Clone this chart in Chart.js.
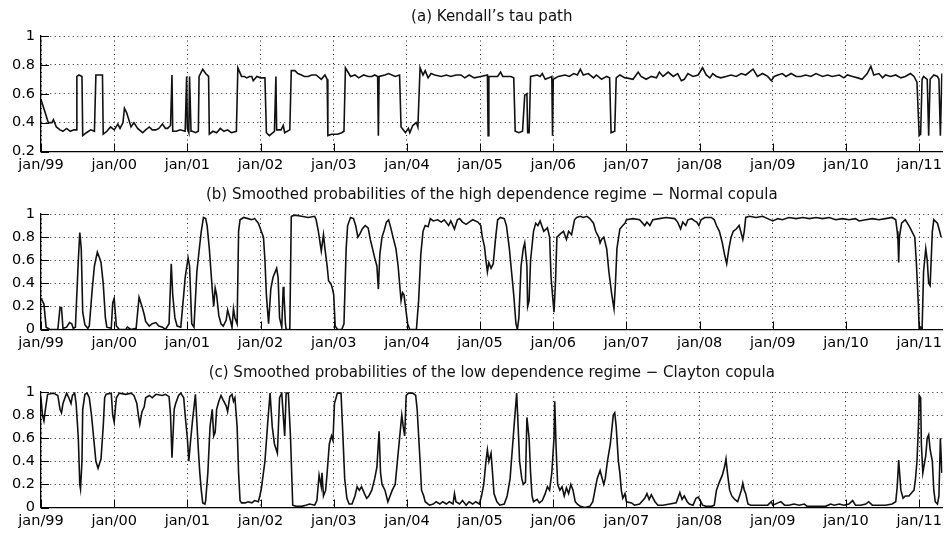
<!DOCTYPE html>
<html lang="en">
<head>
    <meta charset="UTF-8">
    <title>Kendall's tau path and smoothed regime probabilities</title>
    <script src="https://cdn.jsdelivr.net/npm/chart.js"></script>
    <style>
        body {
            margin: 0;
            background: #fff;
            width: 947px;
            height: 534px;
            overflow: hidden;
            position: relative;
        }
        canvas {
            position: absolute;
            left: 0;
        }
        #tauChart { top: 0; }
        #normalChart { top: 178px; }
        #claytonChart { top: 356px; }
    </style>
</head>
<body>

<canvas id="tauChart" width="947" height="178"></canvas>
<canvas id="normalChart" width="947" height="178"></canvas>
<canvas id="claytonChart" width="947" height="178"></canvas>

<script>
// x ticks: one per january, labelled jan/yy
const yearTicks = [1999, 2000, 2001, 2002, 2003, 2004, 2005, 2006, 2007, 2008, 2009, 2010, 2011];
const tauTicks = [0.2, 0.4, 0.6, 0.8, 1];
const probTicks = [0, 0.2, 0.4, 0.6, 0.8, 1];

// (a) Kendall's tau path
const tauYears = [
    1999.00,1999.05,1999.10,1999.15,1999.17,1999.21,1999.26,1999.30,1999.35,1999.40,1999.45,1999.48,1999.49,1999.52,1999.56,1999.57,1999.62,1999.68,1999.73,1999.75,1999.80,1999.84,1999.85,1999.90,1999.95,
    2000.00,2000.05,2000.08,2000.12,2000.14,2000.17,2000.23,2000.27,2000.32,2000.39,2000.43,2000.48,2000.52,2000.57,2000.61,2000.66,2000.70,2000.73,2000.77,2000.79,2000.80,2000.85,2000.90,2000.97,2000.99,
    2001.00,2001.02,2001.03,2001.05,2001.07,2001.11,2001.15,2001.16,2001.21,2001.25,2001.29,2001.30,2001.35,2001.40,2001.45,2001.50,2001.55,2001.60,2001.67,2001.69,2001.74,2001.78,2001.81,2001.85,2001.88,2001.90,2001.95,
    2002.00,2002.06,2002.08,2002.12,2002.19,2002.21,2002.22,2002.28,2002.31,2002.33,2002.40,2002.42,2002.47,2002.51,2002.56,2002.60,2002.65,2002.70,2002.76,2002.83,2002.88,2002.91,2002.92,2002.97,
    2003.05,2003.11,2003.14,2003.16,2003.23,2003.29,2003.34,2003.41,2003.47,2003.52,2003.56,2003.60,2003.61,2003.62,2003.70,2003.75,2003.84,2003.90,2003.92,2003.95,2003.98,
    2004.02,2004.04,2004.08,2004.13,2004.15,2004.18,2004.22,2004.25,2004.29,2004.33,2004.38,2004.47,2004.54,2004.60,2004.67,2004.74,2004.79,2004.85,2004.92,
    2005.01,2005.10,2005.11,2005.12,2005.20,2005.24,2005.28,2005.31,2005.42,2005.46,2005.48,2005.53,2005.58,2005.61,2005.64,2005.65,2005.67,2005.69,2005.78,2005.82,2005.85,2005.89,2005.94,2005.98,2005.99,
    2006.00,2006.07,2006.16,2006.22,2006.28,2006.33,2006.37,2006.41,2006.48,2006.55,2006.59,2006.66,2006.73,2006.77,2006.79,2006.84,2006.86,2006.91,2006.98,
    2007.00,2007.09,2007.16,2007.20,2007.27,2007.34,2007.41,2007.45,2007.50,2007.57,2007.64,2007.70,2007.75,2007.79,2007.84,2007.91,2007.98,
    2008.04,2008.09,2008.14,2008.18,2008.23,2008.29,2008.36,2008.43,2008.50,2008.57,2008.63,2008.73,2008.79,2008.86,2008.93,2008.98,
    2009.02,2009.07,2009.13,2009.18,2009.25,2009.32,2009.38,2009.45,2009.52,2009.59,2009.68,2009.75,2009.81,2009.91,2009.97,
    2010.02,2010.09,2010.16,2010.22,2010.29,2010.34,2010.38,2010.45,2010.50,2010.54,2010.61,2010.68,2010.75,2010.81,2010.88,2010.93,2010.97,
    2011.00,2011.02,2011.04,2011.06,2011.11,2011.13,2011.15,2011.20,2011.25,2011.27,2011.29,2011.31
];
const tauValues = [
    0.56,0.48,0.40,0.40,0.42,0.37,0.35,0.34,0.36,0.34,0.35,0.35,0.72,0.73,0.72,0.31,0.33,0.35,0.34,0.73,0.73,0.73,0.32,0.34,0.37,
    0.35,0.39,0.36,0.40,0.50,0.47,0.37,0.40,0.36,0.33,0.35,0.37,0.35,0.35,0.36,0.39,0.36,0.36,0.38,0.73,0.34,0.34,0.35,0.34,0.72,
    0.36,0.33,0.72,0.34,0.34,0.33,0.34,0.72,0.77,0.74,0.72,0.32,0.34,0.33,0.36,0.34,0.35,0.33,0.34,0.78,0.72,0.72,0.71,0.72,0.72,0.69,0.72,
    0.71,0.71,0.33,0.31,0.34,0.72,0.35,0.35,0.38,0.33,0.35,0.76,0.76,0.74,0.73,0.72,0.72,0.73,0.73,0.70,0.73,0.70,0.31,0.32,
    0.32,0.33,0.34,0.78,0.72,0.73,0.71,0.73,0.72,0.72,0.73,0.72,0.31,0.72,0.73,0.74,0.72,0.73,0.37,0.35,0.33,
    0.36,0.33,0.38,0.40,0.37,0.78,0.73,0.76,0.71,0.74,0.73,0.72,0.73,0.72,0.73,0.73,0.71,0.73,0.71,
    0.72,0.73,0.31,0.72,0.72,0.72,0.75,0.72,0.72,0.71,0.34,0.33,0.34,0.59,0.60,0.33,0.33,0.72,0.73,0.72,0.74,0.70,0.71,0.72,0.31,
    0.70,0.72,0.73,0.72,0.74,0.73,0.77,0.73,0.74,0.71,0.73,0.70,0.72,0.71,0.33,0.34,0.71,0.73,0.71,
    0.71,0.70,0.75,0.72,0.70,0.72,0.71,0.75,0.72,0.75,0.72,0.74,0.69,0.70,0.74,0.72,0.73,
    0.78,0.73,0.71,0.74,0.72,0.71,0.72,0.73,0.72,0.74,0.73,0.77,0.72,0.74,0.72,0.69,
    0.72,0.73,0.74,0.72,0.74,0.72,0.72,0.73,0.72,0.74,0.72,0.73,0.72,0.73,0.71,
    0.73,0.72,0.71,0.70,0.74,0.79,0.73,0.74,0.71,0.73,0.72,0.73,0.71,0.72,0.74,0.72,0.68,
    0.31,0.32,0.70,0.72,0.70,0.31,0.70,0.73,0.72,0.70,0.31,0.74
];

// (b) smoothed probabilities, high dependence regime (Normal copula)
const normalYears = [
    1999.00,1999.01,1999.04,1999.07,1999.12,1999.23,1999.26,1999.28,1999.30,1999.35,1999.39,1999.42,1999.44,1999.47,1999.51,1999.53,1999.55,1999.57,1999.60,1999.64,1999.66,1999.70,1999.73,1999.77,1999.80,1999.82,1999.85,1999.88,1999.90,1999.96,1999.98,
    2000.00,2000.03,2000.07,2000.16,2000.18,2000.23,2000.30,2000.34,2000.38,2000.41,2000.43,2000.48,2000.52,2000.57,2000.61,2000.66,2000.70,2000.75,2000.78,2000.80,2000.83,2000.86,2000.91,2000.95,2000.97,
    2001.01,2001.03,2001.06,2001.09,2001.13,2001.16,2001.19,2001.22,2001.25,2001.27,2001.30,2001.34,2001.36,2001.38,2001.40,2001.43,2001.46,2001.49,2001.53,2001.55,2001.58,2001.61,2001.63,2001.65,2001.68,2001.70,2001.72,2001.77,2001.83,2001.88,2001.92,2001.97,
    2002.01,2002.04,2002.06,2002.08,2002.11,2002.14,2002.17,2002.22,2002.24,2002.26,2002.29,2002.31,2002.32,2002.34,2002.35,2002.40,2002.42,2002.47,2002.56,2002.65,2002.74,2002.76,2002.79,2002.83,2002.86,2002.88,2002.91,2002.93,2002.96,2002.98,
    2003.00,2003.02,2003.05,2003.11,2003.14,2003.17,2003.19,2003.23,2003.27,2003.30,2003.33,2003.36,2003.39,2003.43,2003.47,2003.50,2003.53,2003.56,2003.59,2003.61,2003.63,2003.66,2003.69,2003.72,2003.75,2003.78,2003.81,2003.85,2003.88,2003.92,2003.94,2003.96,2003.98,
    2004.01,2004.04,2004.13,2004.16,2004.19,2004.22,2004.25,2004.29,2004.32,2004.36,2004.42,2004.47,2004.51,2004.57,2004.60,2004.65,2004.69,2004.72,2004.76,2004.81,2004.85,2004.90,2004.97,
    2005.01,2005.03,2005.06,2005.08,2005.10,2005.12,2005.15,2005.18,2005.21,2005.24,2005.28,2005.33,2005.36,2005.40,2005.43,2005.46,2005.49,2005.51,2005.53,2005.56,2005.59,2005.61,2005.64,2005.65,2005.67,2005.69,2005.73,2005.76,2005.79,2005.82,2005.87,2005.92,2005.95,2005.97,2005.99,
    2006.01,2006.03,2006.05,2006.10,2006.14,2006.18,2006.21,2006.25,2006.29,2006.32,2006.37,2006.41,2006.46,2006.50,2006.55,2006.58,2006.62,2006.64,2006.66,2006.69,2006.73,2006.76,2006.80,2006.83,2006.85,2006.87,2006.91,2006.95,2006.98,
    2007.00,2007.09,2007.18,2007.25,2007.28,2007.32,2007.36,2007.45,2007.54,2007.66,2007.70,2007.74,2007.77,2007.81,2007.84,2007.89,2007.93,2007.96,2007.99,
    2008.02,2008.07,2008.16,2008.20,2008.23,2008.27,2008.31,2008.34,2008.37,2008.40,2008.43,2008.46,2008.50,2008.54,2008.57,2008.59,2008.61,2008.63,2008.68,2008.77,2008.86,2008.93,
    2009.00,2009.07,2009.13,2009.22,2009.32,2009.41,2009.50,2009.59,2009.68,2009.77,2009.86,2009.95,
    2010.04,2010.13,2010.18,2010.27,2010.36,2010.45,2010.54,2010.63,2010.68,2010.70,2010.71,2010.72,2010.73,2010.76,2010.81,2010.86,2010.90,2010.94,2010.96,2010.99,
    2011.00,2011.02,2011.04,2011.06,2011.09,2011.11,2011.13,2011.15,2011.18,2011.20,2011.25,2011.28,2011.30
];
const normalProbs = [
    0.27,0.26,0.22,0.02,0.00,0.00,0.19,0.19,0.01,0.02,0.06,0.05,0.01,0.02,0.60,0.84,0.70,0.15,0.04,0.01,0.03,0.35,0.55,0.67,0.62,0.58,0.40,0.10,0.02,0.01,0.23,
    0.27,0.03,0.00,0.00,0.02,0.00,0.01,0.28,0.20,0.13,0.07,0.03,0.05,0.06,0.03,0.02,0.00,0.05,0.57,0.30,0.10,0.03,0.02,0.30,0.45,
    0.62,0.55,0.05,0.02,0.50,0.68,0.85,0.97,0.96,0.90,0.70,0.35,0.20,0.36,0.30,0.12,0.05,0.03,0.08,0.17,0.10,0.02,0.18,0.10,0.05,0.85,0.95,0.97,0.96,0.95,0.96,0.92,
    0.85,0.80,0.60,0.30,0.05,0.35,0.45,0.53,0.45,0.10,0.02,0.37,0.30,0.05,0.00,0.00,0.98,0.99,0.98,0.97,0.98,0.95,0.85,0.68,0.82,0.70,0.55,0.42,0.40,0.36,
    0.30,0.03,0.00,0.00,0.05,0.70,0.90,0.97,0.96,0.90,0.80,0.83,0.87,0.90,0.88,0.78,0.70,0.62,0.55,0.35,0.65,0.80,0.86,0.93,0.95,0.88,0.80,0.70,0.55,0.25,0.32,0.30,0.20,
    0.05,0.00,0.00,0.25,0.65,0.85,0.90,0.89,0.96,0.94,0.95,0.93,0.95,0.90,0.94,0.87,0.95,0.96,0.93,0.91,0.93,0.95,0.93,
    0.90,0.80,0.72,0.60,0.50,0.58,0.53,0.57,0.78,0.95,0.97,0.96,0.90,0.70,0.50,0.30,0.05,0.00,0.10,0.55,0.70,0.75,0.55,0.20,0.25,0.60,0.85,0.92,0.90,0.94,0.85,0.88,0.80,0.45,0.30,
    0.15,0.40,0.80,0.83,0.85,0.78,0.85,0.82,0.95,0.97,0.98,0.97,0.98,0.96,0.92,0.85,0.80,0.75,0.78,0.80,0.70,0.50,0.30,0.18,0.40,0.70,0.87,0.90,0.92,
    0.95,0.96,0.95,0.90,0.93,0.90,0.95,0.96,0.97,0.96,0.93,0.87,0.93,0.90,0.95,0.96,0.94,0.93,0.90,
    0.95,0.97,0.97,0.95,0.90,0.85,0.75,0.65,0.57,0.70,0.80,0.85,0.87,0.90,0.83,0.78,0.85,0.97,0.98,0.97,0.98,0.96,
    0.94,0.96,0.95,0.97,0.96,0.97,0.96,0.97,0.96,0.97,0.95,0.96,
    0.95,0.96,0.94,0.95,0.96,0.95,0.96,0.97,0.95,0.85,0.78,0.58,0.80,0.92,0.95,0.90,0.85,0.80,0.60,0.20,
    0.00,0.02,0.00,0.50,0.70,0.60,0.40,0.38,0.85,0.95,0.92,0.85,0.80
];

// (c) smoothed probabilities, low dependence regime (Clayton copula)
const claytonYears = [
    1999.00,1999.02,1999.04,1999.06,1999.09,1999.17,1999.23,1999.26,1999.28,1999.30,1999.35,1999.38,1999.41,1999.43,1999.46,1999.48,1999.51,1999.53,1999.54,1999.56,1999.57,1999.60,1999.63,1999.66,1999.69,1999.72,1999.75,1999.78,1999.80,1999.82,1999.85,1999.87,1999.89,1999.96,1999.98,
    2000.00,2000.03,2000.07,2000.16,2000.23,2000.27,2000.31,2000.33,2000.35,2000.38,2000.41,2000.43,2000.48,2000.52,2000.57,2000.66,2000.70,2000.75,2000.77,2000.79,2000.82,2000.84,2000.88,2000.91,2000.95,2000.97,
    2001.00,2001.02,2001.04,2001.07,2001.11,2001.15,2001.17,2001.19,2001.21,2001.24,2001.25,2001.28,2001.31,2001.34,2001.36,2001.38,2001.40,2001.43,2001.46,2001.49,2001.53,2001.55,2001.58,2001.61,2001.63,2001.65,2001.68,2001.70,2001.72,2001.74,2001.79,2001.83,2001.88,2001.92,2001.97,2001.99,
    2002.01,2002.06,2002.10,2002.13,2002.16,2002.19,2002.23,2002.26,2002.29,2002.31,2002.33,2002.35,2002.38,2002.41,2002.44,2002.49,2002.56,2002.62,2002.67,2002.74,2002.77,2002.80,2002.83,2002.84,2002.86,2002.89,2002.91,2002.94,2002.97,2002.99,
    2003.01,2003.05,2003.10,2003.12,2003.15,2003.18,2003.21,2003.25,2003.29,2003.32,2003.35,2003.38,2003.42,2003.45,2003.48,2003.52,2003.56,2003.59,2003.62,2003.64,2003.66,2003.70,2003.74,2003.77,2003.80,2003.84,2003.87,2003.90,2003.93,2003.95,2003.97,2003.99,
    2004.02,2004.08,2004.12,2004.14,2004.18,2004.20,2004.23,2004.25,2004.29,2004.31,2004.36,2004.40,2004.45,2004.49,2004.54,2004.58,2004.63,2004.65,2004.67,2004.72,2004.76,2004.81,2004.85,2004.90,2004.94,2004.99,
    2005.02,2005.05,2005.08,2005.10,2005.12,2005.15,2005.17,2005.19,2005.23,2005.27,2005.33,2005.37,2005.41,2005.44,2005.47,2005.50,2005.52,2005.54,2005.57,2005.59,2005.62,2005.64,2005.67,2005.69,2005.71,2005.73,2005.78,2005.81,2005.85,2005.89,2005.92,2005.95,2005.98,
    2006.01,2006.02,2006.04,2006.06,2006.09,2006.12,2006.15,2006.18,2006.21,2006.24,2006.27,2006.30,2006.33,2006.37,2006.43,2006.50,2006.54,2006.57,2006.60,2006.64,2006.66,2006.69,2006.71,2006.74,2006.78,2006.82,2006.84,2006.86,2006.89,2006.91,2006.93,2006.95,2006.98,
    2007.00,2007.07,2007.11,2007.18,2007.25,2007.28,2007.31,2007.34,2007.39,2007.43,2007.50,2007.59,2007.68,2007.73,2007.76,2007.79,2007.83,2007.86,2007.91,2007.95,2007.98,
    2008.01,2008.04,2008.09,2008.16,2008.20,2008.23,2008.27,2008.31,2008.34,2008.36,2008.38,2008.41,2008.44,2008.48,2008.52,2008.57,2008.59,2008.61,2008.63,2008.66,2008.70,2008.77,2008.86,2008.93,2008.98,
    2009.00,2009.07,2009.11,2009.16,2009.22,2009.29,2009.36,2009.43,2009.47,2009.54,2009.63,2009.72,2009.79,2009.84,2009.91,2009.97,
    2010.04,2010.09,2010.13,2010.20,2010.27,2010.31,2010.36,2010.45,2010.54,2010.63,2010.68,2010.70,2010.72,2010.75,2010.78,2010.81,2010.86,2010.90,2010.93,2010.95,2010.97,2010.99,
    2011.00,2011.02,2011.03,2011.05,2011.09,2011.11,2011.13,2011.15,2011.18,2011.20,2011.22,2011.25,2011.27,2011.29,2011.31
];
const claytonProbs = [
    0.95,0.80,0.75,0.85,0.98,0.99,0.97,0.85,0.82,0.90,0.99,0.95,0.90,0.97,0.99,0.90,0.60,0.20,0.16,0.40,0.85,0.98,0.99,0.95,0.80,0.60,0.40,0.34,0.38,0.42,0.70,0.95,0.98,0.99,0.80,
    0.74,0.95,0.99,0.98,0.99,0.97,0.90,0.80,0.72,0.83,0.87,0.95,0.97,0.95,0.98,0.97,0.98,0.96,0.80,0.43,0.85,0.90,0.97,0.99,0.95,0.80,
    0.60,0.40,0.55,0.75,0.98,0.50,0.30,0.15,0.04,0.03,0.06,0.30,0.70,0.85,0.62,0.65,0.85,0.92,0.97,0.93,0.88,0.83,0.96,0.98,0.92,0.95,0.70,0.30,0.06,0.04,0.04,0.05,0.04,0.06,0.05,0.10,
    0.16,0.40,0.75,0.99,0.70,0.55,0.47,0.95,0.99,0.80,0.62,0.99,0.99,0.60,0.02,0.01,0.01,0.02,0.03,0.02,0.06,0.28,0.18,0.30,0.10,0.15,0.30,0.55,0.62,0.58,
    0.90,0.99,0.99,0.70,0.25,0.08,0.03,0.03,0.10,0.18,0.15,0.18,0.12,0.08,0.10,0.15,0.25,0.35,0.66,0.30,0.20,0.15,0.05,0.10,0.15,0.20,0.40,0.60,0.80,0.70,0.62,0.97,
    0.99,0.99,0.97,0.85,0.40,0.15,0.10,0.05,0.03,0.02,0.03,0.05,0.03,0.05,0.03,0.05,0.03,0.12,0.05,0.03,0.06,0.02,0.05,0.03,0.05,0.03,
    0.10,0.20,0.40,0.50,0.40,0.47,0.30,0.12,0.05,0.02,0.03,0.10,0.25,0.50,0.75,0.99,0.70,0.40,0.25,0.20,0.22,0.78,0.60,0.30,0.10,0.05,0.07,0.04,0.06,0.12,0.18,0.15,0.30,
    0.60,0.92,0.50,0.20,0.15,0.18,0.10,0.17,0.12,0.20,0.15,0.05,0.03,0.01,0.00,0.01,0.05,0.15,0.25,0.32,0.27,0.20,0.25,0.40,0.55,0.80,0.82,0.70,0.40,0.30,0.15,0.08,0.12,
    0.05,0.04,0.02,0.03,0.08,0.12,0.07,0.11,0.05,0.02,0.02,0.03,0.04,0.13,0.07,0.10,0.05,0.03,0.02,0.08,0.09,
    0.06,0.02,0.01,0.01,0.02,0.15,0.22,0.28,0.35,0.42,0.30,0.15,0.10,0.07,0.05,0.15,0.21,0.15,0.12,0.03,0.02,0.02,0.02,0.02,0.05,
    0.02,0.04,0.05,0.02,0.02,0.03,0.02,0.03,0.01,0.01,0.01,0.01,0.03,0.02,0.03,0.02,
    0.03,0.06,0.02,0.02,0.03,0.05,0.02,0.02,0.02,0.03,0.05,0.18,0.41,0.15,0.08,0.10,0.10,0.13,0.15,0.25,0.40,0.70,
    0.97,0.95,0.55,0.30,0.45,0.60,0.63,0.50,0.40,0.15,0.05,0.03,0.10,0.60,0.30
];

const FONT = 'DejaVu Sans';
const X_MAX = 2011.32;   // the figure is cut just after jan/11

// short tick marks drawn inside the axes, like the original
const innerTicks = {
    id: 'innerTicks',
    afterDatasetsDraw(chart) {
        const {ctx, chartArea: area, scales: {x, y}} = chart;
        ctx.save();
        ctx.strokeStyle = '#000';
        ctx.lineWidth = 1;
        ctx.beginPath();
        x.ticks.forEach(t => {
            const px = Math.round(x.getPixelForValue(t.value)) + 0.5;
            ctx.moveTo(px, area.bottom);
            ctx.lineTo(px, area.bottom - 8);
        });
        y.ticks.forEach(t => {
            const py = Math.round(y.getPixelForValue(t.value)) + 0.5;
            ctx.moveTo(area.left, py);
            ctx.lineTo(area.left + 8, py);
        });
        ctx.stroke();
        ctx.restore();
    }
};

function makePanel(id, title, years, values, yMin, yTicks) {
    const ctx = document.getElementById(id).getContext('2d');
    return new Chart(ctx, {
        type: 'line',
        data: {
            datasets: [{
                data: years.map((x, i) => ({x: x, y: values[i]})),
                borderColor: '#111',
                borderWidth: 1.6,
                pointRadius: 0,
                tension: 0,
                fill: false
            }]
        },
        options: {
            responsive: false,
            animation: false,
            devicePixelRatio: 1,
            layout: { padding: 0 },
            plugins: {
                legend: { display: false },
                tooltip: { enabled: false },
                title: {
                    display: true,
                    fullSize: false,   // centre over the axes, not the canvas
                    text: title,
                    color: '#111',
                    font: { family: FONT, size: 15, weight: 'normal' },
                    padding: { top: 8, bottom: 10 }
                }
            },
            scales: {
                x: {
                    type: 'linear',
                    min: 1999,
                    max: X_MAX,
                    afterBuildTicks: s => { s.ticks = yearTicks.map(v => ({value: v})); },
                    afterFit: s => { s.height = 26.5; },
                    ticks: {
                        color: '#000',
                        font: { family: FONT, size: 14.5 },
                        padding: 5,
                        maxRotation: 0,
                        autoSkip: false,
                        callback: v => 'jan/' + String(v).slice(2)
                    },
                    grid: { color: '#222', lineWidth: 1, drawTicks: false },
                    border: { display: true, color: '#000', width: 1.3, dash: [1, 3.5] }
                },
                y: {
                    min: yMin,
                    max: 1,
                    afterBuildTicks: s => { s.ticks = yTicks.map(v => ({value: v})); },
                    afterFit: s => { s.width = 41; },
                    ticks: {
                        color: '#000',
                        font: { family: FONT, size: 14.5 },
                        padding: 6,
                        callback: v => (v === 0 || v === 1) ? String(v) : v.toFixed(1)
                    },
                    grid: { color: '#222', lineWidth: 1, drawTicks: false },
                    border: { display: true, color: '#000', width: 1.3, dash: [1, 3.5] }
                }
            }
        },
        plugins: [innerTicks]
    });
}

makePanel('tauChart', '(a) Kendall\u2019s tau path', tauYears, tauValues, 0.2, tauTicks);
makePanel('normalChart', '(b) Smoothed probabilities of the high dependence regime \u2212 Normal copula', normalYears, normalProbs, 0, probTicks);
makePanel('claytonChart', '(c) Smoothed probabilities of the low dependence regime \u2212 Clayton copula', claytonYears, claytonProbs, 0, probTicks);
</script>
</body>
</html>
